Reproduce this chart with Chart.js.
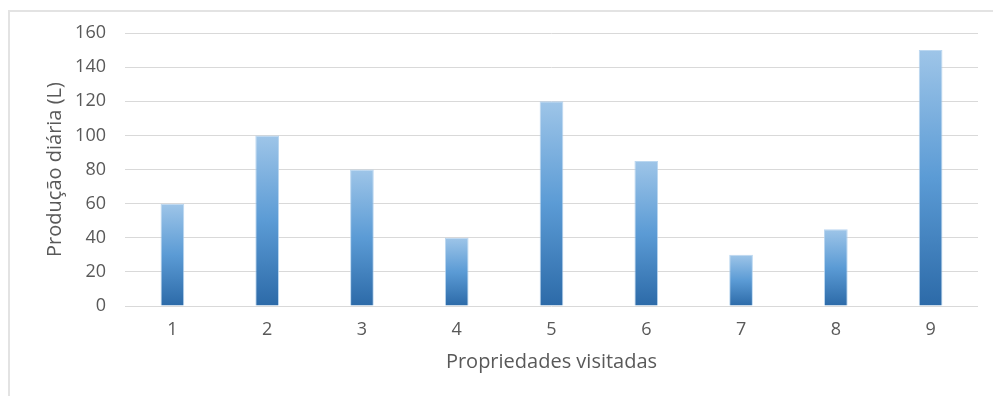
<!DOCTYPE html>
<html>
<head>
<meta charset="utf-8">
<script src="https://cdn.jsdelivr.net/npm/chart.js@4/dist/chart.umd.min.js"></script>
<style>
  body { margin: 0; background: #fff; }
  #wrap { position: relative; width: 993px; height: 396px; }
  #moldura { position: absolute; left: 8px; top: 10px; width: 990px; height: 400px;
             border-left: 2px solid #e3e3e3; border-top: 2px solid #e3e3e3; }
  canvas { position: absolute; left: 0; top: 0; }
</style>
</head>
<body>
<div id="wrap">
  <div id="moldura"></div>
  <canvas id="grafico" width="993" height="396"></canvas>
</div>
<script>
const propriedades = ['1', '2', '3', '4', '5', '6', '7', '8', '9'];
const producao = [60, 100, 80, 40, 120, 85, 30, 45, 150];
const ticksY = [0, 20, 40, 60, 80, 100, 120, 140, 160];

const corTexto = '#595959';
const fonte = "'Open Sans', sans-serif";

function degrade(context) {
    const chart = context.chart;
    if (!chart.chartArea || context.raw == null) return '#5b9bd5';
    const y = chart.scales.y;
    const base = y.getPixelForValue(0);
    const topo = y.getPixelForValue(context.raw);
    const g = chart.ctx.createLinearGradient(0, base, 0, topo);
    g.addColorStop(0, '#2c6aa8');
    g.addColorStop(0.5, '#5b9bd5');
    g.addColorStop(1, '#9ec5e8');
    return g;
}

const ctx = document.getElementById('grafico').getContext('2d');
const grafico = new Chart(ctx, {
    type: 'bar',
    data: {
        labels: propriedades,
        datasets: [{
            data: producao,
            backgroundColor: degrade,
            borderColor: 'rgba(170,205,236,0.8)',
            borderWidth: 1,
            barPercentage: 0.25,
            categoryPercentage: 1
        }]
    },
    options: {
        responsive: false,
        animation: false,
        layout: { padding: { left: 0, right: 15, top: 33, bottom: 0 } },
        plugins: {
            legend: { display: false },
            tooltip: { enabled: false }
        },
        scales: {
            x: {
                grid: { display: false, drawTicks: false },
                border: { display: false },
                ticks: { color: corTexto, font: { family: fonte, size: 18 }, padding: 13 },
                title: {
                    display: true,
                    text: 'Propriedades visitadas',
                    color: corTexto,
                    font: { family: fonte, size: 20 },
                    padding: { top: 0, bottom: 22 }
                },
                afterFit: (scale) => { scale.height = 90; }
            },
            y: {
                min: 0,
                max: 160,
                afterBuildTicks: (scale) => { scale.ticks = ticksY.map(v => ({ value: v })); },
                grid: { color: '#d9d9d9', drawTicks: false },
                border: { display: false },
                ticks: { color: corTexto, font: { family: fonte, size: 18 }, padding: 19 },
                title: {
                    display: true,
                    text: 'Produção diária (L)',
                    color: corTexto,
                    font: { family: fonte, size: 20 },
                    padding: { top: 43, bottom: 0 }
                },
                afterFit: (scale) => { scale.width = 125; }
            }
        }
    }
});
</script>
</body>
</html>
